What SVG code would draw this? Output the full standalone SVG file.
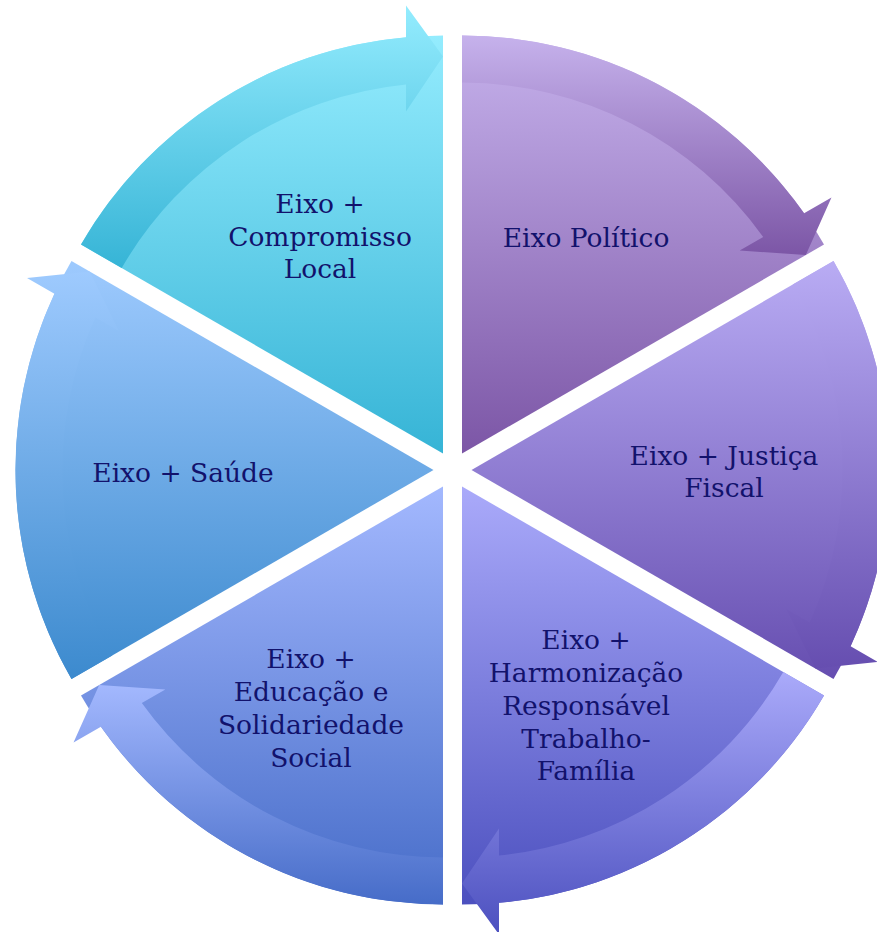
<svg xmlns="http://www.w3.org/2000/svg" width="877" height="932" viewBox="0 0 877 932">
<defs>
<linearGradient id="g0" x1="0" y1="0" x2="0" y2="1"><stop offset="0" stop-color="#c6b2ec"/><stop offset="1" stop-color="#7c56a6"/></linearGradient>
<linearGradient id="g1" x1="0" y1="0" x2="0" y2="1"><stop offset="0" stop-color="#b9acf4"/><stop offset="1" stop-color="#664eb0"/></linearGradient>
<linearGradient id="g2" x1="0" y1="0" x2="0" y2="1"><stop offset="0" stop-color="#aaaafa"/><stop offset="1" stop-color="#4c50bf"/></linearGradient>
<linearGradient id="g3" x1="0" y1="0" x2="0" y2="1"><stop offset="0" stop-color="#a3b8fe"/><stop offset="1" stop-color="#466cc8"/></linearGradient>
<linearGradient id="g4" x1="0" y1="0" x2="0" y2="1"><stop offset="0" stop-color="#9ecafe"/><stop offset="1" stop-color="#3c8ace"/></linearGradient>
<linearGradient id="g5" x1="0" y1="0" x2="0" y2="1"><stop offset="0" stop-color="#94ecfe"/><stop offset="1" stop-color="#36b4d6"/></linearGradient>
</defs>
<style>
text{font-family:"DejaVu Serif","Liberation Serif",serif;font-size:26.5px;fill:#12126c;text-anchor:middle}
</style>
<rect width="877" height="932" fill="#ffffff"/>
<g id="node-politico">
<path d="M462,453.55 L462,35.55 A418,418 0 0 1 823.99,244.55 Z" fill="url(#g0)"/>
<text x="586" y="247">Eixo Político</text>
</g>
<g id="node-justica">
<path d="M471.5,470 L833.5,261 A418,418 0 0 1 833.5,679 Z" fill="url(#g1)"/>
<text x="724" y="465">Eixo + Justiça</text>
<text x="724" y="497">Fiscal</text>
</g>
<g id="node-harmonizacao">
<path d="M462,486.45 L824,695.45 A418,418 0 0 1 462,904.45 Z" fill="url(#g2)"/>
<text x="586" y="649">Eixo +</text>
<text x="586" y="682">Harmonização</text>
<text x="586" y="715">Responsável</text>
<text x="586" y="748">Trabalho-</text>
<text x="586" y="780">Família</text>
</g>
<g id="node-educacao">
<path d="M443,486.45 L443,904.45 A418,418 0 0 1 81,695.45 Z" fill="url(#g3)"/>
<text x="311" y="668">Eixo +</text>
<text x="311" y="701">Educação e</text>
<text x="311" y="734">Solidariedade</text>
<text x="311" y="767">Social</text>
</g>
<g id="node-saude">
<path d="M433.5,470 L71.5,679 A418,418 0 0 1 71.5,261 Z" fill="url(#g4)"/>
<text x="183" y="482">Eixo + Saúde</text>
</g>
<g id="node-compromisso">
<path d="M443,453.55 L81,244.55 A418,418 0 0 1 443,35.55 Z" fill="url(#g5)"/>
<text x="320" y="213">Eixo +</text>
<text x="320" y="246">Compromisso</text>
<text x="320" y="278">Local</text>
</g>
<g id="connectors">
<path d="M462,35.55 A418,418 0 0 1 804.08,213.33 L831.48,197.51 L805.81,255.05 L739.68,250.51 L763.19,236.93 A371,371 0 0 0 462,82.55 Z" fill="url(#g0)"/>
<path d="M833.5,261 A418,418 0 0 1 850.58,646.14 L877.98,661.96 L815.31,668.5 L786.18,608.96 L809.69,622.53 A371,371 0 0 0 792.8,284.5 Z" fill="url(#g1)"/>
<path d="M824,695.45 A418,418 0 0 1 499,902.81 L499,934.45 L462,883.45 L499,828.45 L499,855.6 A371,371 0 0 0 783.3,671.95 Z" fill="url(#g2)"/>
<path d="M443,904.45 A418,418 0 0 1 100.92,726.67 L73.52,742.49 L99.19,684.95 L165.32,689.49 L141.81,703.07 A371,371 0 0 0 443,857.45 Z" fill="url(#g3)"/>
<path d="M71.5,679 A418,418 0 0 1 54.42,293.86 L27.02,278.04 L89.69,271.5 L118.82,331.04 L95.31,317.47 A371,371 0 0 0 112.2,655.5 Z" fill="url(#g4)"/>
<path d="M81,244.55 A418,418 0 0 1 406,37.19 L406,5.55 L443,56.55 L406,111.55 L406,84.4 A371,371 0 0 0 121.7,268.05 Z" fill="url(#g5)"/>
</g>
</svg>
